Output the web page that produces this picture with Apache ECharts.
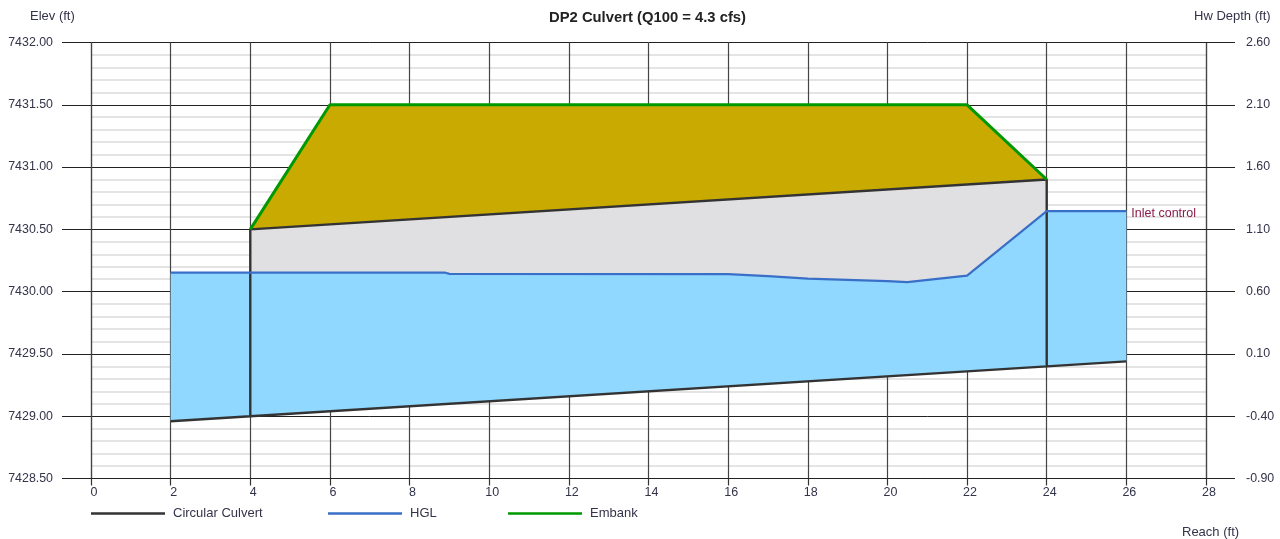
<!DOCTYPE html>
<html><head><meta charset="utf-8">
<style>html,body{margin:0;padding:0;background:#fff}#c{width:1280px;height:539px}</style>
<script src="https://cdn.jsdelivr.net/npm/echarts@6/dist/echarts.min.js"></script>
</head><body><div id="c"></div>
<script>
const chartTitle = 'DP2 Culvert (Q100 = 4.3 cfs)';
const culvertPath = [[2,7428.96],[4,7429.00],[4,7430.50],[24,7430.90],[24,7429.40],[4,7429.00],[24,7429.40],[26,7429.44]];
const hgl = [[2,7430.152],[8.9,7430.152],[9,7430.143],[16,7430.141],[17,7430.125],[18,7430.105],[20,7430.085],[20.5,7430.077],[22,7430.128],[24,7430.647],[26,7430.647]];
const embank = [[4,7430.50],[6,7431.50],[22,7431.50],[24,7430.90]];
const note = 'Inlet control';

const font = 'Arial, "Liberation Sans", sans-serif';
const txt = '#33334a';
function poly(name, pts, color, z){
  return {type:'custom', name, coordinateSystem:'cartesian2d', z, silent:true, clip:true,
    encode:{x:0,y:1}, data:pts,
    renderItem(params, api){
      if(params.dataIndex!==0) return null;
      return {type:'polygon', shape:{points:pts.map(p=>api.coord(p))}, style:{fill:color}};
    }};
}
const waterPoly = hgl.concat([[26,7429.44],[2,7428.96]]);
const pipePoly = [[4,7430.5],[24,7430.9],[24,7430.647]].concat(hgl.slice(1,9).reverse(),[[4,7430.152]]);
const embankPoly = embank.concat([[4,7430.5]]);
const leg = (name,left,color)=>({data:[{name,icon:'rect'}], left, top:507, itemWidth:74, itemHeight:2.5, itemGap:0, padding:0,
  textStyle:{fontFamily:font,fontSize:13,color:txt,padding:[3,0,0,3]}, selectedMode:false, itemStyle:{color}});
const hdr = (text,o)=>Object.assign({text,textStyle:{fontFamily:font,fontSize:13,fontWeight:'normal',color:txt},padding:0},o);

const chart = echarts.init(document.getElementById('c'),null,{renderer:'canvas'});
chart.setOption({
  animation:false,
  backgroundColor:'#fff',
  title:[
    hdr(chartTitle,{left:549,top:10,textStyle:{fontFamily:font,fontSize:14.8,fontWeight:'bold',color:'#222'}}),
    hdr('Elev (ft)',{left:30,top:10}),
    hdr('Hw Depth (ft)',{left:1194,top:10}),
    hdr('Reach (ft)',{left:1182,top:526})
  ],
  legend:[leg('Circular Culvert',91,'#333'),leg('HGL',328,'#3a6fc8'),leg('Embank',508,'#009900')],
  grid:{left:91,right:74,top:42.5,height:436,containLabel:false},
  xAxis:{type:'value',min:0,max:28,interval:2,
    axisLine:{show:true,onZero:false,lineStyle:{color:'#222'}},
    axisTick:{show:true,length:7,lineStyle:{color:'#333',width:1.2}},
    axisLabel:{fontFamily:font,fontSize:12.5,color:txt,margin:8,padding:[0,0,0,6],showMinLabel:true,showMaxLabel:true},
    splitLine:{show:true,lineStyle:{color:'#444',width:1.2}},
    minorSplitLine:{show:false}},
  yAxis:[
    {type:'value',min:7428.5,max:7432,interval:0.5,
      axisLine:{show:true,lineStyle:{color:'#444',width:1.2}},
      axisTick:{show:true,length:29,lineStyle:{color:'#222'}},
      axisLabel:{fontFamily:font,fontSize:12.4,color:txt,margin:38,padding:[4,0,0,0],formatter:v=>v.toFixed(2),showMinLabel:true,showMaxLabel:true},
      splitLine:{show:true,lineStyle:{color:'#222',width:1}},
      minorTick:{show:false,splitNumber:5},
      minorSplitLine:{show:true,lineStyle:{color:'#dcdcdc',width:1.5}}},
    {type:'value',min:-0.9,max:2.6,interval:0.5,position:'right',
      axisLine:{show:true,lineStyle:{color:'#444',width:1.2}},
      axisTick:{show:true,length:29,lineStyle:{color:'#222'}},
      axisLabel:{fontFamily:font,fontSize:12.4,color:txt,margin:40,padding:[4,0,0,0],formatter:v=>v.toFixed(2),showMinLabel:true,showMaxLabel:true},
      splitLine:{show:false}}
  ],
  series:[
    poly('water',waterPoly,'#90d8ff',2),
    poly('pipe',pipePoly,'#e0e0e3',2),
    poly('embankFill',embankPoly,'#c9aa00',2),
    {type:'line',name:'Circular Culvert',data:culvertPath,showSymbol:false,z:4,lineStyle:{color:'#333',width:2.4},itemStyle:{color:'#333'},silent:true},
    {type:'line',name:'HGL',showSymbol:true,symbol:'circle',symbolSize:0,z:5,lineStyle:{color:'#3a6fc8',width:2.2},itemStyle:{color:'#3a6fc8'},silent:true,
      data:hgl.map((p,i)=>i===hgl.length-1?{value:p,label:{show:true,position:'right',distance:4,offset:[1,3],formatter:note,fontFamily:font,fontSize:12.5,color:'#8b1a4a'}}:p)},
    {type:'line',name:'Embank',data:embank,showSymbol:false,z:6,lineStyle:{color:'#009900',width:3},itemStyle:{color:'#009900'},silent:true}
  ]
});
</script></body></html>
